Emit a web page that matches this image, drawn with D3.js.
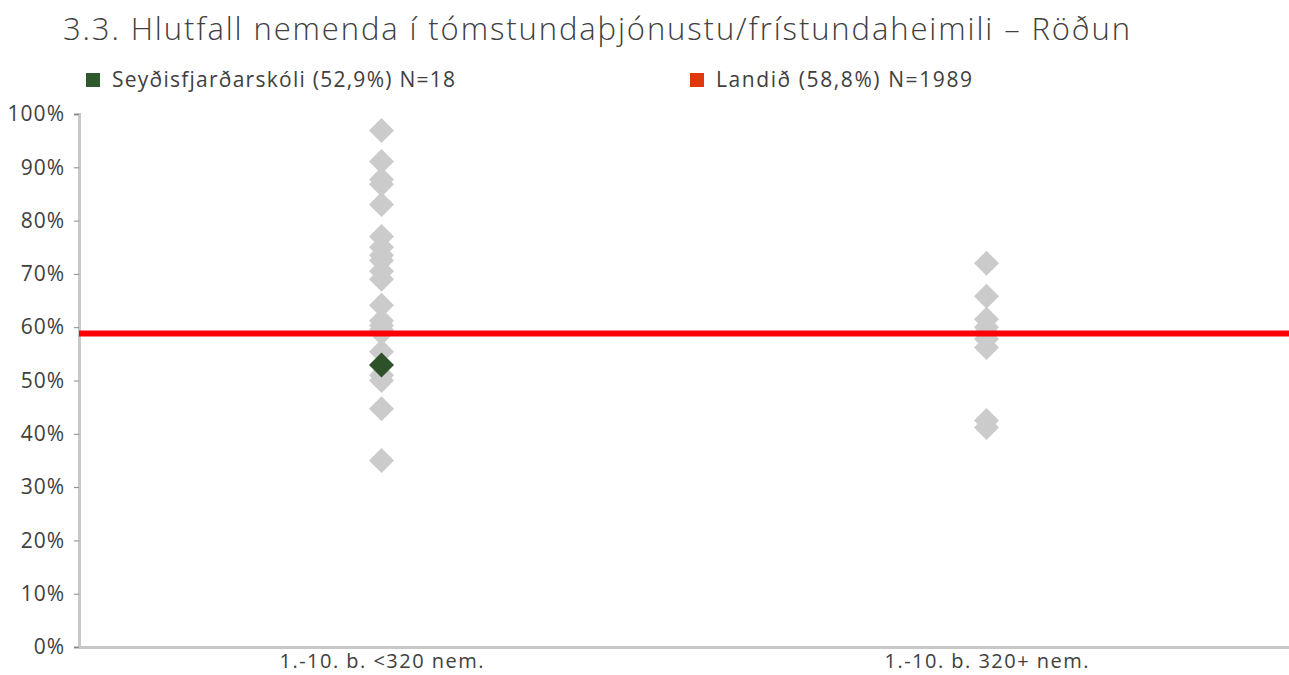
<!DOCTYPE html>
<html>
<head>
<meta charset="utf-8">
<script src="https://cdn.jsdelivr.net/npm/d3@7"></script>
<style>
  html, body { margin: 0; padding: 0; background: #fff; }
  svg { display: block; }
  text { font-family: "Open Sans", "Noto Sans", sans-serif; fill: #404040; }
</style>
</head>
<body>
<svg id="chart" width="1289" height="675"></svg>
<script>
// Groups on the x axis
const categories = ["1.-10. b. <320 nem.", "1.-10. b. 320+ nem."];

// Other schools per group (percent)
const schoolsSmall = [96.9, 91.1, 87.7, 86.8, 83.0, 77.0, 75.0, 73.5, 72.5, 70.5, 69.0,
                      64.1, 61.2, 60.3, 59.5, 58.9, 55.4, 51.0, 50.0, 44.7, 35.0];
const schoolsLarge = [72.0, 65.8, 61.5, 60.0, 59.0, 57.8, 56.2, 42.5, 41.2];

// Highlighted school and national average
const schoolName = "Seyðisfjarðarskóli";
const schoolValue = 52.9;
const schoolN = 18;
const schoolCategory = categories[0];
const nationalName = "Landið";
const nationalValue = 58.8;
const nationalN = 1989;

const yTicks = [0, 10, 20, 30, 40, 50, 60, 70, 80, 90, 100];
const title = "3.3. Hlutfall nemenda í tómstundaþjónustu/frístundaheimili – Röðun";

const fmt = v => String(v).replace(".", ",");

const svg = d3.select("#chart");
const margin = { left: 79, right: 0, top: 114, bottom: 28 };
const W = 1289, H = 675;

const x = d3.scaleBand().domain(categories).range([margin.left, W - margin.right]);
const y = d3.scaleLinear().domain([0, 100]).range([H - margin.bottom, margin.top]);

// Title
svg.append("text")
  .attr("x", 63).attr("y", 40)
  .attr("textLength", 1067).attr("lengthAdjust", "spacing")
  .style("font-size", "31px")
  .style("font-weight", 300)
  .text(title);

// Legend
const legend = [
  { label: `${schoolName} (${fmt(schoolValue)}%) N=${schoolN}`, color: "#2f5a2d", x: 86, w: 343 },
  { label: `${nationalName} (${fmt(nationalValue)}%) N=${nationalN}`, color: "#e0380f", x: 690, w: 256 }
];
const lg = svg.append("g").selectAll("g").data(legend).join("g")
  .attr("transform", d => `translate(${d.x},73)`);
lg.append("rect").attr("width", 14).attr("height", 14).attr("fill", d => d.color);
lg.append("text").attr("x", 26).attr("y", 14)
  .attr("textLength", d => d.w).attr("lengthAdjust", "spacing")
  .style("font-size", "21px").text(d => d.label);

// Y axis
const yAxis = svg.append("g")
  .attr("transform", `translate(${margin.left},0)`)
  .call(d3.axisLeft(y).tickValues(yTicks).tickFormat(d => d + "%").tickSize(5).tickPadding(9));
yAxis.select(".domain").attr("stroke", "#c8c8c8").attr("stroke-width", 3);
yAxis.selectAll(".tick line").attr("stroke", "#888").attr("stroke-width", 1);
yAxis.selectAll(".tick text")
  .style("font-size", "21px").style("letter-spacing", "1px")
  .attr("fill", "#404040")
  .style("font-family", "'Open Sans', 'Noto Sans', sans-serif");

// X axis
const xAxis = svg.append("g")
  .attr("transform", `translate(0,${y(0)})`)
  .call(d3.axisBottom(x).tickSize(0).tickPadding(7));
xAxis.select(".domain").attr("stroke", "#c8c8c8").attr("stroke-width", 3);
xAxis.selectAll(".tick text")
  .attr("textLength", 204).attr("lengthAdjust", "spacing")
  .style("font-size", "20px").attr("fill", "#404040")
  .style("font-family", "'Open Sans', 'Noto Sans', sans-serif");

// Diamond marker
const r = 12.5;
const diamond = `M0,${-r}L${r},0L0,${r}L${-r},0Z`;
const cx = c => x(c) + x.bandwidth() / 2;

const points = [
  ...schoolsSmall.map(v => ({ cat: categories[0], v })),
  ...schoolsLarge.map(v => ({ cat: categories[1], v }))
];

svg.append("g").selectAll("path").data(points).join("path")
  .attr("d", diamond)
  .attr("fill", "#cbcbcb")
  .attr("transform", d => `translate(${cx(d.cat)},${y(d.v)})`);

// National average line
svg.append("line")
  .attr("x1", margin.left).attr("x2", W)
  .attr("y1", y(nationalValue)).attr("y2", y(nationalValue))
  .attr("stroke", "#ff0000").attr("stroke-width", 6);

// Highlighted school
svg.append("path")
  .attr("d", diamond)
  .attr("fill", "#2d5128")
  .attr("transform", `translate(${cx(schoolCategory)},${y(schoolValue)})`);
</script>
</body>
</html>
